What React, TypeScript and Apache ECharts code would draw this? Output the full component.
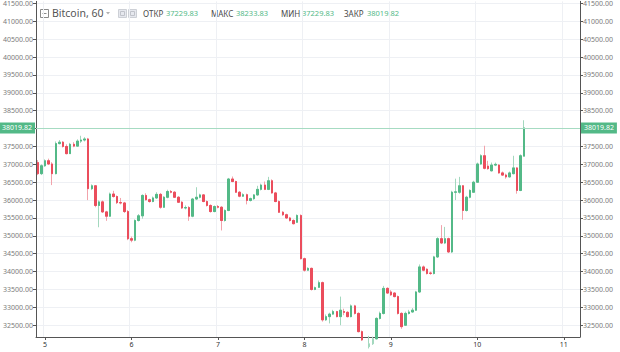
import React, { useEffect, useRef } from 'react';
import * as echarts from 'echarts';

// ---- data ----
const dayLabels = ['5', '6', '7', '8', '9', '10', '11'];
const firstDay = 4;
const firstHour = 22;
const slotCount = 151; // hourly slots shown on the x axis (4th 22:00 .. 11th 04:00)

const priceTicks = [32500, 33000, 33500, 34000, 34500, 35000, 35500, 36000, 36500, 37000, 37500, 38000, 38500, 39000, 39500, 40000, 40500, 41000, 41500];

const opens = [
  37050, 36740, 36960, 37100, 37010, 36740, 37580, 37620, 37500, 37300, 37560, 37510, 37650, 37680, 37710, 36320,
  36400, 35850, 35950, 35670, 35550, 36170, 36100, 35930, 35920, 35680, 34920, 34880, 35430, 35560, 36130, 36010,
  35960, 36060, 36160, 35800, 36080, 36240, 36220, 36080, 35940, 35780, 35790, 35550, 36030, 36080, 36145, 35960,
  35850, 35680, 35820, 35800, 35430, 35710, 36590, 36520, 36220, 36110, 36150, 35990, 36040, 36145, 36300, 36420,
  36300, 36540, 36200, 35960, 35660, 35590, 35500, 35430, 35380, 35570, 34360, 34040, 34090, 33500, 33560, 33690,
  32650, 32740, 32810, 32880, 32740, 32880, 32860, 32740, 33040, 32830, 32320, 32090, 31900, 31980, 32120, 32690,
  32830, 33530, 33430, 33400, 33300, 32830, 32500, 32830, 32870, 32920, 33430, 34130, 34065, 33960, 33945, 34410,
  34920, 34800, 34920, 34550, 36220, 36220, 36400, 35710, 36080, 36220, 36500, 37010, 37240, 36950, 36820, 36980,
  36980, 36760, 36700, 36650, 36740, 36900, 36270, 37229.83
];
const closes = [
  36740, 36960, 37100, 37010, 36740, 37580, 37620, 37500, 37300, 37560, 37510, 37650, 37680, 37710, 36320, 36400,
  35850, 35950, 35670, 35550, 36170, 36100, 35930, 35920, 35680, 34920, 34880, 35430, 35560, 36130, 36010, 35960,
  36060, 36160, 35800, 36080, 36240, 36220, 36080, 35940, 35780, 35790, 35550, 36030, 36080, 36145, 35960, 35850,
  35680, 35820, 35800, 35430, 35710, 36590, 36520, 36220, 36110, 36150, 35990, 36040, 36145, 36300, 36420, 36300,
  36540, 36200, 35960, 35660, 35590, 35500, 35430, 35340, 35570, 34360, 34040, 34090, 33500, 33550, 33690, 32650,
  32740, 32810, 32880, 32740, 32920, 32860, 32740, 33040, 32830, 32320, 32090, 31900, 31980, 32120, 32690, 32830,
  33530, 33400, 33350, 33300, 32830, 32460, 32830, 32870, 32920, 33430, 34130, 34040, 33945, 33950, 34410, 34920,
  34800, 34920, 34550, 36220, 36230, 36400, 35710, 36080, 36270, 36500, 37010, 37240, 36890, 36880, 36980, 37000,
  36760, 36700, 36650, 36760, 36900, 36270, 37240, 38019.82
];
const highs = [
  37120, 37000, 37140, 37160, 37060, 37640, 37680, 37650, 37560, 37600, 37620, 37700, 37800, 37760, 37740, 36440,
  36420, 35990, 35990, 35700, 36210, 36260, 36130, 36060, 35950, 35720, 34980, 35460, 35610, 36160, 36190, 36040,
  36100, 36220, 36200, 36110, 36290, 36280, 36250, 36110, 35970, 35850, 35830, 36060, 36360, 36180, 36170, 35990,
  35880, 35850, 35860, 35830, 35740, 36620, 36660, 36540, 36250, 36190, 36180, 36070, 36170, 36400, 36460, 36520,
  36650, 36580, 36230, 35990, 35690, 35620, 35530, 35460, 35600, 35600, 34390, 34120, 34110, 33580, 33750, 33720,
  32800, 32850, 32930, 32900, 33300, 32960, 32890, 33080, 33070, 32860, 32350, 32110, 32200, 32180, 32720, 32880,
  33600, 33560, 33480, 33420, 33330, 32860, 32880, 32930, 32980, 33460, 34200, 34170, 34090, 34000, 34440, 34960,
  35300, 35250, 34950, 36260, 36600, 36650, 36420, 36120, 36300, 36540, 37050, 37280, 37520, 37100, 37050, 37050,
  37000, 36800, 36740, 36800, 37240, 36920, 37280, 38233.83
];
const lows = [
  36700, 36700, 36930, 36980, 36420, 36720, 37560, 37470, 37280, 37290, 37480, 37500, 37600, 37640, 36000, 36280,
  35800, 35240, 35640, 35420, 35530, 36070, 35890, 35880, 35640, 34880, 34820, 34850, 35400, 35480, 35990, 35930,
  35940, 36030, 35760, 35780, 36050, 36190, 36060, 35920, 35750, 35740, 35420, 35520, 36000, 36050, 35940, 35820,
  35650, 35660, 35770, 35150, 35400, 35690, 36500, 36200, 36080, 36090, 35880, 35960, 36010, 36120, 36270, 36280,
  36280, 36180, 35940, 35640, 35560, 35470, 35400, 35320, 35360, 34340, 34000, 34020, 33470, 33480, 33540, 32600,
  32620, 32550, 32790, 32720, 32500, 32780, 32720, 32720, 32800, 32300, 32060, 31880, 31850, 31950, 32100, 32660,
  32800, 33380, 33320, 33280, 32800, 32400, 32480, 32800, 32850, 32900, 33400, 34010, 33920, 33910, 33920, 34380,
  34770, 34770, 34520, 34520, 36000, 36180, 35450, 35680, 36050, 36200, 36480, 36980, 36860, 36850, 36800, 36950,
  36740, 36680, 36600, 36630, 36720, 36180, 36250, 37229.83
];

// ---- colors ----
const UP = '#53b987';
const DOWN = '#eb4d5c';
const UP_WICK = '#a3d8be';
const DOWN_WICK = '#f2a3ab';
const GRID = '#eef0f4';
const AXIS = '#555';
const FONT = '"Noto Sans", "DejaVu Sans", sans-serif';

function pad(n: number) {
  return n < 10 ? '0' + n : '' + n;
}

export default function App() {
  const ref = useRef<HTMLDivElement>(null);

  useEffect(() => {
    if (!ref.current) return;
    const chart = echarts.init(ref.current, undefined, { renderer: 'svg' });

    const categories: string[] = [];
    for (let i = 0; i < slotCount; i++) {
      const t = firstHour + i;
      const d = firstDay + Math.floor(t / 24);
      const h = t % 24;
      categories.push(d + ' ' + pad(h) + ':00');
    }
    const isDayStart = (idx: number) => (firstHour + idx) % 24 === 0;
    const dayOf = (cat: string) => {
      const d = parseInt(cat.split(' ')[0], 10);
      return dayLabels[d - 5] ?? String(d);
    };

    const full = opens.map((o, i) => [o, closes[i], lows[i], highs[i]]);
    const bodies = opens.map((o, i) => [o, closes[i], Math.min(o, closes[i]), Math.max(o, closes[i])]);

    const last = opens.length - 1;
    const lastClose = closes[last];

    const yAxisBase = (pos: 'left' | 'right', split: boolean) => ({
      type: 'value',
      position: pos,
      min: 32170,
      max: 41560,
      scale: true,
      axisLine: { show: true, lineStyle: { color: AXIS, width: 1 } },
      axisTick: { show: true, length: 3, lineStyle: { color: AXIS }, customValues: priceTicks },
      axisLabel: {
        customValues: priceTicks,
        fontSize: 7,
        color: '#7b7b7b',
        fontFamily: FONT,
        margin: 3,
        formatter: (v: number) => v.toFixed(2),
      },
      splitLine: { show: split, lineStyle: { color: GRID, width: 1 } },
    });

    const header = (x: number, text: string, color: string, size = 7.5) => ({
      type: 'text',
      x,
      y: 13,
      style: {
        text,
        fill: color,
        fontSize: size,
        fontFamily: FONT,
        verticalAlign: 'middle',
        align: 'left',
      },
    });

    chart.setOption({
      animation: false,
      backgroundColor: '#ffffff',
      grid: { left: 36, right: 40, top: 0, bottom: 15 },
      xAxis: {
        type: 'category',
        data: categories,
        boundaryGap: true,
        axisLine: { show: true, lineStyle: { color: AXIS, width: 1 } },
        axisTick: {
          show: true,
          alignWithLabel: true,
          length: 3,
          interval: (idx: number) => isDayStart(idx),
          lineStyle: { color: AXIS },
        },
        axisLabel: {
          interval: (idx: number) => isDayStart(idx),
          formatter: (v: string) => dayOf(v),
          fontSize: 7,
          color: '#333',
          fontFamily: FONT,
          margin: 4,
        },
        splitLine: {
          show: true,
          interval: (idx: number) => isDayStart(idx),
          lineStyle: { color: GRID, width: 1 },
        },
      },
      yAxis: [yAxisBase('left', true), yAxisBase('right', false)],
      series: [
        {
          type: 'candlestick',
          name: 'wicks',
          data: full,
          barWidth: 2,
          clip: true,
          silent: true,
          itemStyle: {
            color: UP,
            color0: DOWN,
            borderColor: UP_WICK,
            borderColor0: DOWN_WICK,
            borderWidth: 1,
          },
        },
        {
          type: 'candlestick',
          name: 'bodies',
          data: bodies,
          barWidth: 2,
          clip: true,
          silent: true,
          itemStyle: {
            color: UP,
            color0: DOWN,
            borderColor: UP,
            borderColor0: DOWN,
            borderWidth: 1,
          },
          markLine: {
            silent: true,
            symbol: 'none',
            animation: false,
            lineStyle: { color: '#a6dbc2', width: 1, type: 'solid' },
            label: {
              show: true,
              formatter: (p: any) => Number(p.value).toFixed(2),
              backgroundColor: UP,
              color: '#ffffff',
              fontSize: 7,
              fontFamily: FONT,
              padding: [2, 3, 2, 3],
              distance: 1,
            },
            data: [
              { yAxis: lastClose, label: { position: 'start' } },
              { yAxis: lastClose, label: { position: 'end' } },
            ],
          },
        },
      ],
      graphic: [
        { type: 'rect', shape: { x: 40.5, y: 9.5, width: 8, height: 8 }, style: { fill: '#fff', stroke: '#8a8a8a', lineWidth: 1 } },
        { type: 'line', shape: { x1: 42.5, y1: 13.5, x2: 46.5, y2: 13.5 }, style: { stroke: '#8a8a8a', lineWidth: 1 } },
        header(52, 'Bitcoin, 60', '#555555', 10.5),
        { type: 'polygon', shape: { points: [[106, 12], [110, 12], [108, 14.5]] }, style: { fill: '#b0b0b0' } },
        { type: 'rect', shape: { x: 118.5, y: 9.5, width: 8, height: 8 }, style: { fill: '#e6e8ee', stroke: '#cdd0d6', lineWidth: 1 } },
        { type: 'rect', shape: { x: 120.5, y: 11.5, width: 4, height: 4 }, style: { fill: 'none', stroke: '#c0c3ca', lineWidth: 1 } },
        { type: 'rect', shape: { x: 128.5, y: 9.5, width: 8, height: 8 }, style: { fill: '#e6e8ee', stroke: '#cdd0d6', lineWidth: 1 } },
        { type: 'rect', shape: { x: 130.5, y: 11.5, width: 4, height: 4 }, style: { fill: 'none', stroke: '#c0c3ca', lineWidth: 1 } },
        header(143, 'ОТКР', '#4a4a4a', 8),
        header(166, opens[last].toFixed(2), UP),
        header(211, 'МАКС', '#4a4a4a', 8),
        header(236, highs[last].toFixed(2), UP),
        header(281, 'МИН', '#4a4a4a', 8),
        header(302, lows[last].toFixed(2), UP),
        header(344, 'ЗАКР', '#4a4a4a', 8),
        header(367, closes[last].toFixed(2), UP),
      ],
    });

    return () => chart.dispose();
  }, []);

  return (
    <div
      ref={ref}
      style={{ position: 'fixed', left: 0, top: 0, width: 620, height: 352, background: '#fff' }}
    />
  );
}
